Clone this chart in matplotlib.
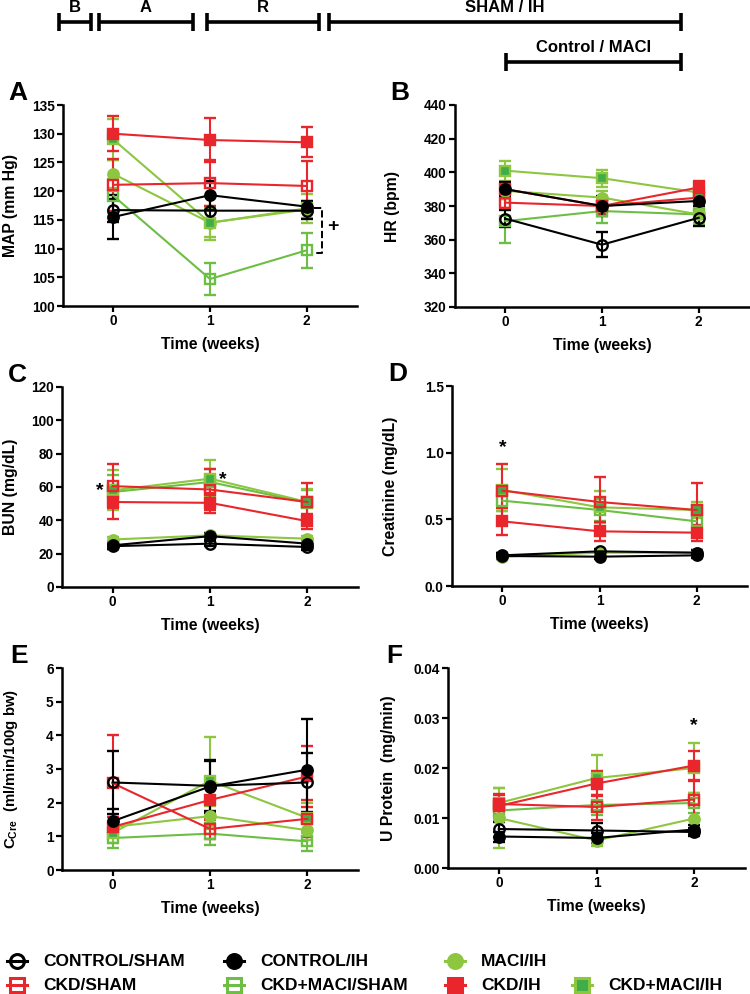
import matplotlib
matplotlib.use("Agg")
import matplotlib.pyplot as plt
from matplotlib.ticker import FormatStrFormatter

plt.rcParams["font.family"] = ["Liberation Sans", "DejaVu Sans"]
plt.rcParams["font.weight"] = "bold"
plt.rcParams["axes.labelweight"] = "bold"
plt.rcParams["mathtext.fontset"] = "custom"
plt.rcParams["mathtext.rm"] = "Liberation Sans:bold"
plt.rcParams["mathtext.it"] = "Liberation Sans:bold"
plt.rcParams["mathtext.default"] = "rm"

W, H = 750, 994
RED = "#E8262B"
GREEN = "#8DC63F"
GREEN2 = "#6DBE45"
DKGREEN = "#3FAE49"

# --- data (rows follow `groups`) ---
weeks = [0, 1, 2]
groups = ["CONTROL/SHAM", "CONTROL/IH", "MACI/IH", "CKD/SHAM",
          "CKD+MACI/SHAM", "CKD/IH", "CKD+MACI/IH"]

map_mean = [[116.7, 116.6, 116.6], [115.5, 119.3, 117.3], [123.0, 114.5, 116.8],
            [121.1, 121.4, 120.9], [119.2, 104.7, 109.7], [130.0, 128.9, 128.5],
            [129.0, 114.5, 117.0]]
map_sem = [[2.0, 2.5, 1.5], [3.8, 2.5, 1.0], [2.5, 2.5, 1.5], [4.5, 4.0, 4.4],
           [3.0, 2.8, 3.0], [3.0, 3.8, 2.6], [3.5, 3.0, 2.5]]

hr_mean = [[372.5, 357.0, 373.0], [390.0, 380.0, 383.0], [389.0, 385.0, 375.0],
           [382.0, 380.0, 385.0], [371.0, 377.0, 375.0], [390.0, 380.0, 391.0],
           [401.0, 396.5, 388.0]]
hr_sem = [[5, 7.5, 5], [4, 6, 3], [5, 4, 5], [3, 5, 4], [13, 7, 6], [4, 5, 4], [6, 5, 5]]

bun_mean = [[24.5, 26.0, 24.0], [25.0, 30.5, 26.0], [28.5, 31.0, 29.0],
            [60.5, 58.5, 51.0], [57.0, 63.0, 50.5], [51.0, 50.5, 39.5],
            [58.0, 65.0, 51.0]]
bun_sem = [[1.5, 1.5, 1.5], [2, 2, 2], [1.5, 1.5, 1.5], [13, 12, 11.5],
           [10, 8, 8], [10, 6, 4.5], [12, 11, 8]]

cre_mean = [[0.23, 0.26, 0.25], [0.225, 0.22, 0.23], [0.22, 0.25, 0.25],
            [0.715, 0.63, 0.57], [0.64, 0.57, 0.485], [0.485, 0.41, 0.40],
            [0.72, 0.59, 0.57]]
cre_sem = [[0.02, 0.02, 0.02], [0.02, 0.02, 0.02], [0.02, 0.02, 0.02],
           [0.20, 0.19, 0.20], [0.08, 0.08, 0.07], [0.10, 0.07, 0.06],
           [0.16, 0.12, 0.06]]

ccre_mean = [[2.6, 2.5, 2.6], [1.45, 2.48, 2.98], [1.28, 1.6, 1.18],
             [2.58, 1.22, 1.52], [0.95, 1.08, 0.85], [1.28, 2.08, 2.78],
             [1.1, 2.65, 1.55]]
ccre_sem = [[0.93, 0.75, 0.87], [0.35, 0.78, 1.5], [0.3, 0.3, 0.3],
            [1.42, 0.3, 0.55], [0.3, 0.33, 0.3], [0.3, 0.6, 0.9],
            [0.3, 1.3, 0.45]]

upr_mean = [[0.0078, 0.0075, 0.0072], [0.0063, 0.0060, 0.0077], [0.0100, 0.0055, 0.0099],
            [0.0128, 0.0122, 0.0137], [0.0115, 0.0126, 0.0130], [0.0124, 0.0169, 0.0205],
            [0.0130, 0.0180, 0.0200]]
upr_sem = [[0.0015, 0.0015, 0.0008], [0.001, 0.001, 0.001], [0.006, 0.001, 0.003],
           [0.002, 0.0025, 0.004], [0.002, 0.002, 0.002], [0.0023, 0.0025, 0.003],
           [0.003, 0.0047, 0.005]]

styles = {
    "CONTROL/SHAM": dict(color="black", marker="o", mfc="none"),
    "CONTROL/IH": dict(color="black", marker="o", mfc="black"),
    "MACI/IH": dict(color=GREEN, marker="o", mfc=GREEN),
    "CKD/SHAM": dict(color=RED, marker="s", mfc="none"),
    "CKD+MACI/SHAM": dict(color=GREEN2, marker="s", mfc="none"),
    "CKD/IH": dict(color=RED, marker="s", mfc=RED),
    "CKD+MACI/IH": dict(color=GREEN, marker="s", mfc=DKGREEN),
}
draw_order = ["CKD+MACI/SHAM", "MACI/IH", "CKD+MACI/IH", "CKD/SHAM",
              "CKD/IH", "CONTROL/IH", "CONTROL/SHAM"]

# (letter, mean, sem, ylim, ystep, fmt, ylabel, label size, rect px (l, t, r, b), label x px)
panels = [
    ("A", map_mean, map_sem, (100, 135), 5, "%d", "MAP (mm Hg)", 11.3, (63, 105, 357, 306), 18),
    ("B", hr_mean, hr_sem, (320, 440), 20, "%d", "HR (bpm)", 11.3, (455, 105, 749, 307), 400),
    ("C", bun_mean, bun_sem, (0, 120), 20, "%d", "BUN (mg/dL)", 11.3, (62, 387, 358, 587), 18),
    ("D", cre_mean, cre_sem, (0, 1.5), 0.5, "%.1f", "Creatinine (mg/dL)", 11.3, (452, 386, 747, 586), 398),
    ("E", ccre_mean, ccre_sem, (0, 6), 1, "%d", r"C$_{Cre}$  (ml/min/100g bw)", 10.8, (62, 668, 358, 870), 20),
    ("F", upr_mean, upr_sem, (0, 0.04), 0.01, "%.2f", "U Protein  (mg/min)", 11.3, (448, 668, 745, 868), 396),
]

fig = plt.figure(figsize=(W / 100, H / 100), dpi=100)
axes = {}
for letter, mean, sem, ylim, step, fmt, ylabel, lsize, (l, t, r, b), lx in panels:
    ax = fig.add_axes([l / W, 1 - b / H, (r - l) / W, (b - t) / H])
    axes[letter] = ax
    for g in draw_order:
        i = groups.index(g)
        st = styles[g]
        ax.errorbar(weeks, mean[i], yerr=sem[i], color=st["color"], marker=st["marker"],
                    mfc=st["mfc"], mec=st["color"], ms=7.5, mew=1.7, lw=1.5,
                    elinewidth=1.5, capsize=4, capthick=1.5, clip_on=False)
    ax.set_xlim(-0.52, 2.52)
    ax.set_ylim(*ylim)
    n = int(round((ylim[1] - ylim[0]) / step))
    ax.set_yticks([ylim[0] + k * step for k in range(n + 1)])
    ax.yaxis.set_major_formatter(FormatStrFormatter(fmt))
    ax.set_xticks(weeks)
    for s in ("top", "right"):
        ax.spines[s].set_visible(False)
    for s in ("left", "bottom"):
        ax.spines[s].set_linewidth(1.8)
    ax.tick_params(direction="out", length=4, width=1.6, labelsize=9.8, pad=2)
    ax.set_xlabel("Time (weeks)", fontsize=11.3, labelpad=6)
    ax.set_ylabel(ylabel, fontsize=lsize)
    ax.yaxis.set_label_coords((lx - l) / (r - l), 0.5)
    fig.text((lx - 10) / W, 1 - (t - 12) / H, letter, fontsize=19, fontweight="bold",
             ha="left", va="center")

# significance marks
axA = axes["A"]
axA.plot([2.08, 2.155, 2.155, 2.08], [117.0, 117.0, 109.2, 109.2], ls="--", color="black", lw=1.4, clip_on=False)
axA.text(2.27, 113.9, "+", fontsize=14, ha="center", va="center")
axes["C"].text(-0.13, 58.0, "*", fontsize=14, ha="center", va="center")
axes["C"].text(1.13, 64.5, "*", fontsize=14, ha="center", va="center")
axes["D"].text(0, 1.04, "*", fontsize=14, ha="center", va="center")
axes["F"].text(2, 0.0285, "*", fontsize=14, ha="center", va="center")

# overlay in pixel coords for the protocol timeline and the legend
ov = fig.add_axes([0, 0, 1, 1])
ov.set_xlim(0, W)
ov.set_ylim(H, 0)
ov.axis("off")

timeline = [("B", 59, 91, 22), ("A", 99, 193, 22), ("R", 207, 319, 22),
            ("SHAM / IH", 329, 681, 22), ("Control / MACI", 506, 681, 62)]
for lab, x0, x1, y in timeline:
    ov.plot([x0, x1], [y, y], color="black", lw=2.6, solid_capstyle="butt")
    for x in (x0, x1):
        ov.plot([x, x], [y - 9, y + 9], color="black", lw=2.6, solid_capstyle="butt")
    ov.text((x0 + x1) / 2, y - 14, lab, fontsize=12, ha="center", va="center")

legend_slots = [("CONTROL/SHAM", 17, 961), ("CONTROL/IH", 234, 961), ("MACI/IH", 455, 961),
                ("CKD/SHAM", 17, 985), ("CKD+MACI/SHAM", 234, 985), ("CKD/IH", 455, 985),
                ("CKD+MACI/IH", 582, 985)]
for g, x, y in legend_slots:
    st = styles[g]
    ov.plot([x - 10, x, x + 10], [y, y, y], color=st["color"], lw=2.2, marker=st["marker"],
            markevery=[1], mfc=st["mfc"], mec=st["color"], ms=10, mew=2.2)
    ov.text(x + 26, y, g, fontsize=12.5, ha="left", va="center")

fig.savefig("out.png", dpi=100)
